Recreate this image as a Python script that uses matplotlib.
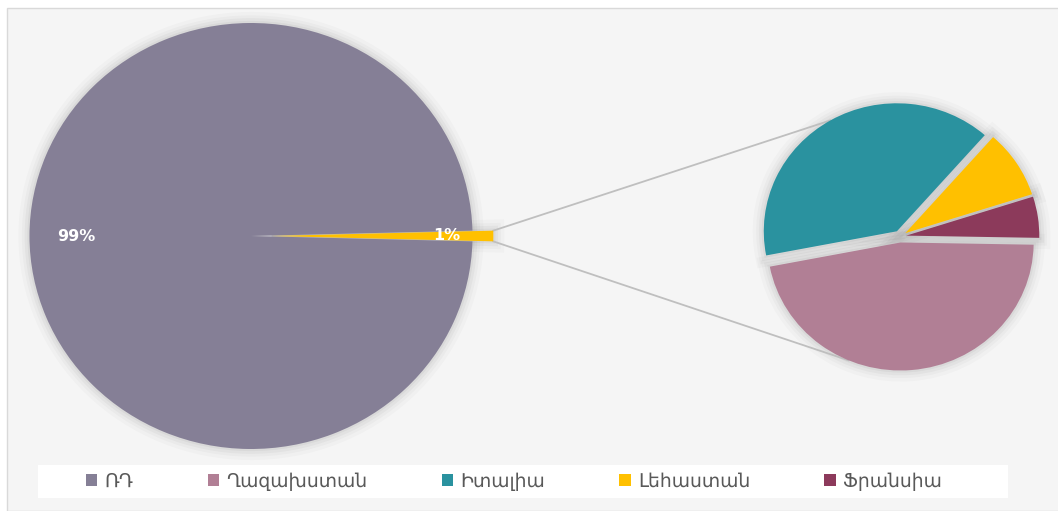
import numpy as np
import matplotlib
matplotlib.use('Agg')
import matplotlib.pyplot as plt
from matplotlib.patches import Rectangle, Wedge

plt.rcParams['font.family'] = ['DejaVu Sans']

# data
main_labels = ['ՌԴ', 'Այլ']
main_values = [99.2, 0.8]
other_labels = ['Ղազախստան', 'Իտալիա', 'Լեհաստան', 'Ֆրանսիա']
other_values = [46.7, 39.5, 8.6, 5.2]

main_colors = ['#857f96', '#ffc000']
other_colors = ['#b17f95', '#2a929f', '#ffc000', '#8c3a5b']

W, H = 1058, 511
SX = 1.04  # the picture is a bit wider than tall

fig = plt.figure(figsize=(W / 100, H / 100), dpi=100)
fig.patch.set_facecolor('white')
ax = fig.add_axes([0, 0, 1, 1])

# background of the chart area and the legend strip
ax.add_patch(Rectangle((7 / W, 0), 1, (H - 8) / H, transform=fig.transFigure,
                       facecolor='#f5f5f5', edgecolor='#d9d9d9', lw=1, zorder=-3))
ax.add_patch(Rectangle((38 / W, 1 - 498 / H), 970 / W, 33 / H, transform=fig.transFigure,
                       facecolor='white', edgecolor='none', zorder=-2))

# main pie (explode is in data units here)
r1 = 213
start = main_values[1] / sum(main_values) * 360 / 2
w1, t1, a1 = ax.pie(main_values, colors=main_colors, center=(251 / SX, H - 236), radius=r1,
                    startangle=start, explode=[0, 20], autopct='%.0f%%', pctdistance=0.79,
                    textprops=dict(color='white', fontsize=11.5, fontweight='bold'),
                    wedgeprops=dict(linewidth=0), frame=True)

# secondary pie
r2 = 128
w2, t2 = ax.pie(other_values, colors=other_colors, center=(900 / SX, H - 236.5), radius=r2,
                startangle=-1, counterclock=False, explode=[6] * 4,
                wedgeprops=dict(linewidth=0), frame=True)

# soft shadow round the slices
for w in list(w1) + list(w2):
    for lw, al in [(16, 0.018), (11, 0.025), (7, 0.03), (3, 0.04)]:
        ax.add_patch(Wedge(w.center, w.r, w.theta1, w.theta2, facecolor='none',
                           edgecolor='black', lw=lw, alpha=al, zorder=-1))


def edge_point(w, ang):
    a = np.deg2rad(ang)
    return w.center[0] + w.r * np.cos(a), w.center[1] + w.r * np.sin(a)


# connector lines
small = w1[1]
p_top = edge_point(small, small.theta2)
p_bot = edge_point(small, small.theta1)
q_top = edge_point(w2[1], 120)
q_bot = edge_point(w2[0], -113)
ax.plot([p_top[0], q_top[0]], [p_top[1], q_top[1]], color='#bfbfbf', lw=1.3, zorder=-0.5)
ax.plot([p_bot[0], q_bot[0]], [p_bot[1], q_bot[1]], color='#bfbfbf', lw=1.3, zorder=-0.5)

ax.set_aspect('auto')
ax.set_xlim(0, W / SX)
ax.set_ylim(0, H)
ax.axis('off')

# legend
handles = [w1[0]] + list(w2)
labels = [main_labels[0]] + other_labels
ax.legend(handles, labels, loc='center', bbox_to_anchor=(514 / W, 1 - 481.5 / H),
          bbox_transform=fig.transFigure, ncol=5, frameon=False, fontsize=13.5,
          labelcolor='#595959', handlelength=0.6, handleheight=0.6,
          handletextpad=0.4, columnspacing=3.95)

fig.savefig('out.png', dpi=100, facecolor='white')
